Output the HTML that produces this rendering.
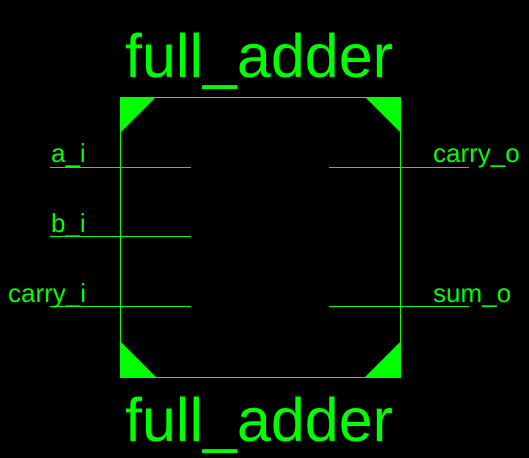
<!DOCTYPE html>
<html><head><meta charset="utf-8"><style>
html,body{margin:0;padding:0;background:#000;}
svg{display:block;}
text{font-family:"Liberation Sans",sans-serif;fill:#00ff00;}
</style></head><body>
<svg width="529" height="458" viewBox="0 0 529 458">
<rect x="0" y="0" width="529" height="458" fill="#000"/>
<text x="259" y="77" font-size="61" text-anchor="middle">full_adder</text>
<text x="259" y="441" font-size="61" text-anchor="middle">full_adder</text>
<rect x="120.5" y="97.5" width="280" height="280" fill="none" stroke="#00ff00" stroke-width="1"/>
<polygon points="120,97 156,97 120,133" fill="#00ff00"/>
<polygon points="365,97 401,97 401,133" fill="#00ff00"/>
<polygon points="120,341 120,378 157,378" fill="#00ff00"/>
<polygon points="401,341 401,378 364,378" fill="#00ff00"/>
<g stroke="#00ff00" stroke-width="1">
<line x1="50" y1="167.5" x2="191" y2="167.5"/>
<line x1="50" y1="236.5" x2="191" y2="236.5"/>
<line x1="50" y1="306.5" x2="191" y2="306.5"/>
<line x1="329" y1="167.5" x2="469" y2="167.5"/>
<line x1="329" y1="306.5" x2="469" y2="306.5"/>
</g>
<text x="51" y="162" font-size="26">a_i</text>
<text x="51" y="232" font-size="26">b_i</text>
<text x="8" y="302" font-size="26">carry_i</text>
<text x="433" y="162" font-size="26">carry_o</text>
<text x="433" y="302" font-size="26">sum_o</text>
</svg>
</body></html>
